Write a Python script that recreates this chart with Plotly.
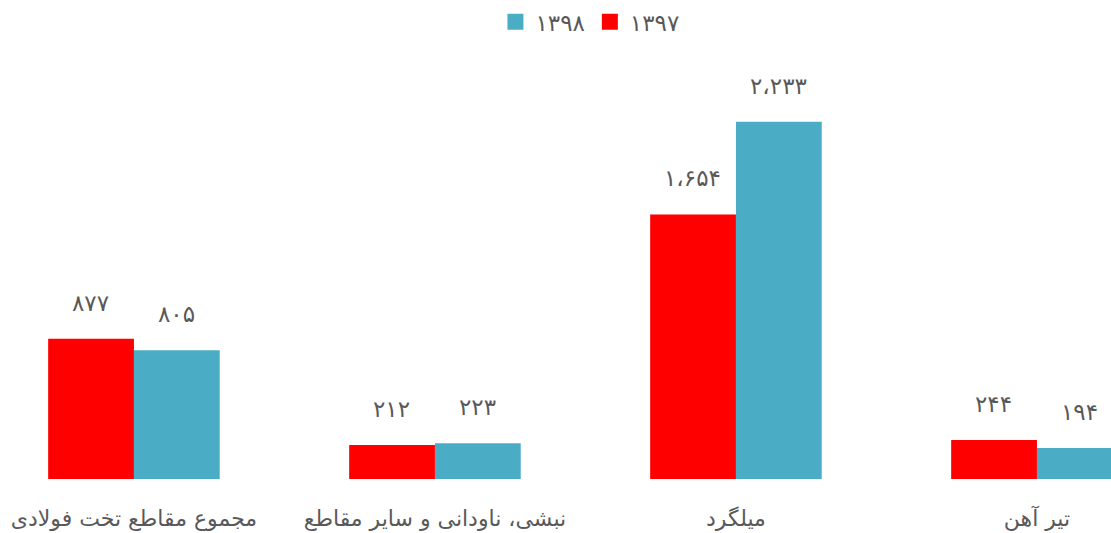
import plotly.graph_objects as go

categories = ["مجموع مقاطع تخت فولادی", "نبشی، ناودانی و سایر مقاطع", "میلگرد", "تیر آهن"]
values_1397 = [877, 212, 1654, 244]
values_1398 = [805, 223, 2233, 194]
labels_1397 = ["۸۷۷", "۲۱۲", "۱،۶۵۴", "۲۴۴"]
labels_1398 = ["۸۰۵", "۲۲۳", "۲،۲۳۳", "۱۹۴"]
series_names = ["۱۳۹۷", "۱۳۹۸"]

RED = "#FF0000"
TEAL = "#4BACC6"
TXT = "#595959"
FONT = "DejaVu Sans"

fig = go.Figure()
fig.add_trace(go.Bar(x=categories, y=values_1397, name=series_names[0], showlegend=False,
                     marker=dict(color=RED, line=dict(width=0))))
fig.add_trace(go.Bar(x=categories, y=values_1398, name=series_names[1], showlegend=False,
                     marker=dict(color=TEAL, line=dict(width=0))))
# legend entries with larger square swatches
fig.add_trace(go.Scatter(x=[None], y=[None], mode="markers", name=series_names[0],
                         marker=dict(symbol="square", size=16, color=RED)))
fig.add_trace(go.Scatter(x=[None], y=[None], mode="markers", name=series_names[1],
                         marker=dict(symbol="square", size=16, color=TEAL)))

for cat, v, lab in zip(categories, values_1397, labels_1397):
    fig.add_annotation(x=cat, y=v, text=lab, showarrow=False, xshift=-43, yshift=36,
                       font=dict(size=23, color=TXT, family=FONT))
for cat, v, lab in zip(categories, values_1398, labels_1398):
    fig.add_annotation(x=cat, y=v, text=lab, showarrow=False, xshift=43, yshift=36,
                       font=dict(size=23, color=TXT, family=FONT))

fig.update_layout(
    width=1111, height=533,
    margin=dict(l=0, r=0, t=60, b=54, autoexpand=False),
    paper_bgcolor="white", plot_bgcolor="white",
    barmode="group", bargap=0.43, bargroupgap=0,
    font=dict(family=FONT, color=TXT, size=20),
    legend=dict(orientation="h", x=0.531, xanchor="center", y=0.959, yanchor="middle",
                yref="container", traceorder="reversed", itemsizing="trace",
                font=dict(size=23, color=TXT, family=FONT)),
    xaxis=dict(range=[-0.445, 3.246], showgrid=False, showline=False, zeroline=False,
               automargin=False, ticks="outside", ticklen=20, tickcolor="rgba(0,0,0,0)",
               tickfont=dict(size=22, color=TXT, family=FONT)),
    yaxis=dict(range=[0, 2619], visible=False, showgrid=False, zeroline=False,
               automargin=False),
)

fig.write_html("out.html", config={"displayModeBar": False},
               post_script="document.body.style.margin='0';")
